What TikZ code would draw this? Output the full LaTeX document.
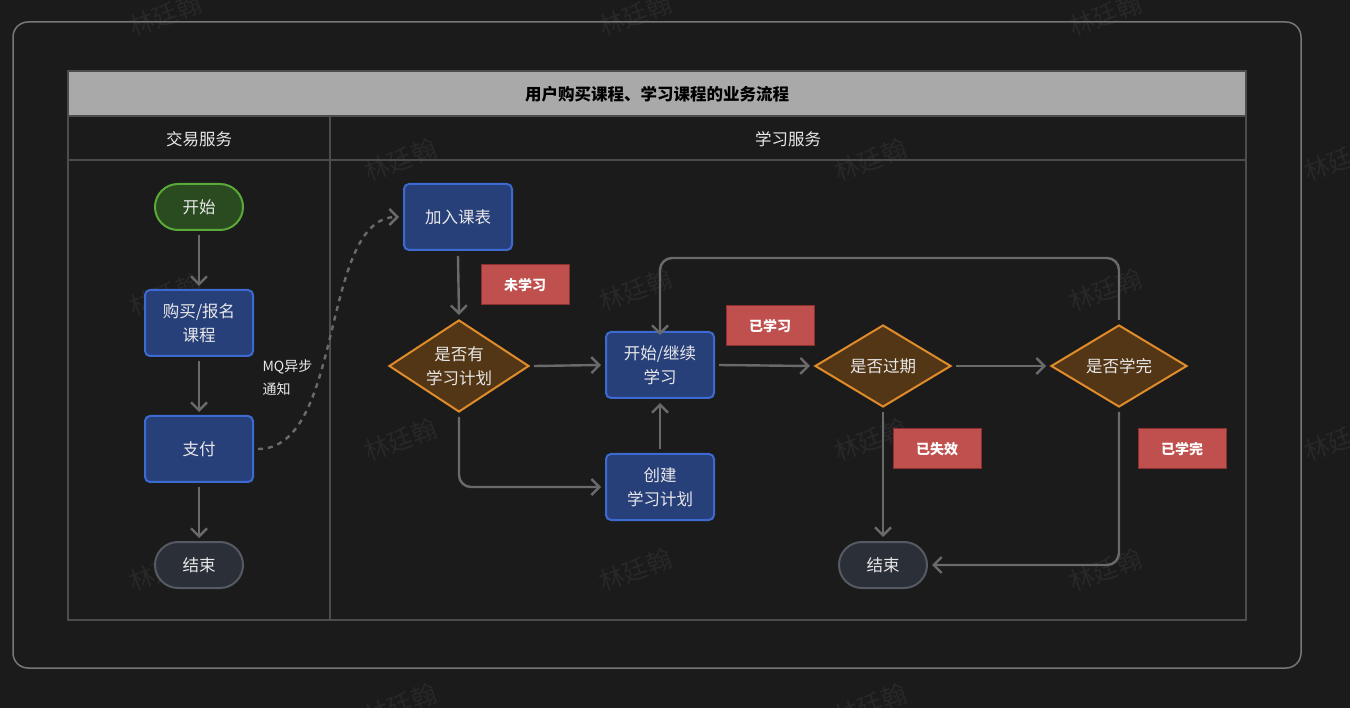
\documentclass[tikz,border=0pt]{standalone}
\usepackage{fontspec}
\setmainfont{Noto Sans CJK SC}
\usetikzlibrary{arrows.meta,shapes.geometric}
\definecolor{bg}{HTML}{1B1B1B}
\definecolor{frameC}{HTML}{777777}
\definecolor{gridC}{HTML}{4C4C4C}
\definecolor{titleC}{HTML}{A9A9A9}
\definecolor{procF}{HTML}{27407A}
\definecolor{procD}{HTML}{3D6AD0}
\definecolor{startF}{HTML}{2A4A1F}
\definecolor{startD}{HTML}{5AAA3A}
\definecolor{endF}{HTML}{2B2F38}
\definecolor{endD}{HTML}{555A63}
\definecolor{decF}{HTML}{533616}
\definecolor{decD}{HTML}{E08C2A}
\definecolor{tagF}{HTML}{C0504D}
\definecolor{tagD}{HTML}{8B3030}
\definecolor{lineC}{HTML}{6A6A6A}
\definecolor{txtC}{HTML}{E8E8E8}
\definecolor{wmC}{HTML}{282828}
\tikzset{
  every node/.style={font=\fontsize{16.5}{24}\selectfont, text=txtC, align=center},
  proc/.style={rectangle, rounded corners=5pt, fill=procF, draw=procD, line width=2pt, minimum width=108pt, minimum height=66pt, inner sep=0pt},
  startbox/.style={rectangle, rounded corners=23pt, fill=startF, draw=startD, line width=2pt, minimum width=88pt, minimum height=46pt, inner sep=0pt},
  endbox/.style={rectangle, rounded corners=23pt, fill=endF, draw=endD, line width=2pt, minimum width=88pt, minimum height=46pt, inner sep=0pt},
  decision/.style={diamond, fill=decF, draw=decD, line width=2pt, inner sep=0pt},
  tag/.style={rectangle, fill=tagF, draw=tagD, line width=1pt, minimum width=88pt, minimum height=40pt, inner sep=0pt, font=\fontsize{14}{16}\selectfont\bfseries, text=white},
  conn/.style={draw=lineC, line width=2.4pt, -{Straight Barb[length=8pt,width=16pt,line width=2.4pt]}},
  wm/.style={font=\fontsize{25}{28}\selectfont, text=wmC, rotate=20},
  hdr/.style={font=\fontsize{16.5}{20}\selectfont, text=txtC},
}
\begin{document}
\begin{tikzpicture}[x=1pt,y=-1pt]
\fill[bg] (0,0) rectangle (1350,708);
\useasboundingbox (0,0) rectangle (1350,708);
% watermarks
\foreach \x/\y in {165/15,635/15,1105/15,400/160,870/160,1340/160,165/295,635/290,1105/290,400/440,870/440,1340/440,165/570,635/570,1105/570,400/705,870/705}
  \node[wm] at (\x,\y) {林廷翰};
% outer frame
\draw[frameC, line width=1.5pt, rounded corners=15pt] (13,22) rectangle (1301,668);
% table
\fill[titleC] (68,71) rectangle (1246,116);
\draw[gridC, line width=2pt] (68,71) rectangle (1246,620);
\draw[gridC, line width=2pt] (68,116) -- (1246,116);
\draw[gridC, line width=2pt] (68,160) -- (1246,160);
\draw[gridC, line width=2pt] (330,116) -- (330,620);
\node[font=\fontsize{16.5}{20}\selectfont\bfseries, text=black] (title) at (657,94) {用户购买课程、学习课程的业务流程};
\node[hdr] (h1) at (199,139) {交易服务};
\node[hdr] (h2) at (788,139) {学习服务};
% left lane
\node[startbox] (start) at (199,207) {开始};
\node[proc] (buy) at (199,323) {购买/报名\\课程};
\node[proc] (pay) at (199,449) {支付};
\node[endbox] (end1) at (199,565) {结束};
\node[font=\fontsize{14}{23}\selectfont, align=left, anchor=west] (mq) at (259,378) {MQ异步\\通知};
% right lane
\node[proc] (add) at (458,217) {加入课表};
\node[decision, minimum width=140pt, minimum height=92pt] (hasplan) at (459,366) {};
\node (hasplanT) at (459,366) {是否有\\学习计划};
\node[proc] (learn) at (660,365) {开始/继续\\学习};
\node[proc] (create) at (660,487) {创建\\学习计划};
\node[decision, minimum width=136pt, minimum height=82pt] (expired) at (883,366) {};
\node (expiredT) at (883,366) {是否过期};
\node[decision, minimum width=136pt, minimum height=82pt] (done) at (1119,366) {};
\node (doneT) at (1119,366) {是否学完};
\node[endbox] (end2) at (883,565) {结束};
% tags
\node[tag] (t1) at (525,285) {未学习};
\node[tag] (t2) at (770,326) {已学习};
\node[tag] (t3) at (937,449) {已失效};
\node[tag] (t4) at (1182,449) {已学完};
% connectors
\draw[conn] ([yshift=-4pt]start.south) -- ([yshift=3pt]buy.north);
\draw[conn] ([yshift=-4pt]buy.south) -- ([yshift=3pt]pay.north);
\draw[conn] ([yshift=-4pt]pay.south) -- ([yshift=3pt]end1.north);
\draw[conn, dashed, dash pattern=on 5pt off 5pt] ([xshift=4pt]pay.east) .. controls (345,449) and (320,217) .. ([xshift=-4pt]add.west);
\draw[conn] ([yshift=-5pt]add.south) -- ([yshift=4pt]hasplan.north);
\draw[conn] ([xshift=4pt]hasplan.east) -- ([xshift=-4pt]learn.west);
\draw[conn, rounded corners=12pt] ([yshift=-4pt]hasplan.south) |- ([xshift=-4pt]create.west);
\draw[conn] ([yshift=4pt]create.north) -- ([yshift=-4pt]learn.south);
\draw[conn] ([xshift=4pt]learn.east) -- ([xshift=-4pt]expired.west);
\draw[conn] ([xshift=4pt]expired.east) -- ([xshift=-4pt]done.west);
\draw[conn, rounded corners=12pt] ([yshift=4pt]done.north) -- (1119,258) -- (660,258) -- ([yshift=-4pt]learn.north);
\draw[conn] ([yshift=-4pt]expired.south) -- ([yshift=4pt]end2.north);
\draw[conn, rounded corners=12pt] ([yshift=-4pt]done.south) |- ([xshift=4pt]end2.east);
\end{tikzpicture}
\end{document}
